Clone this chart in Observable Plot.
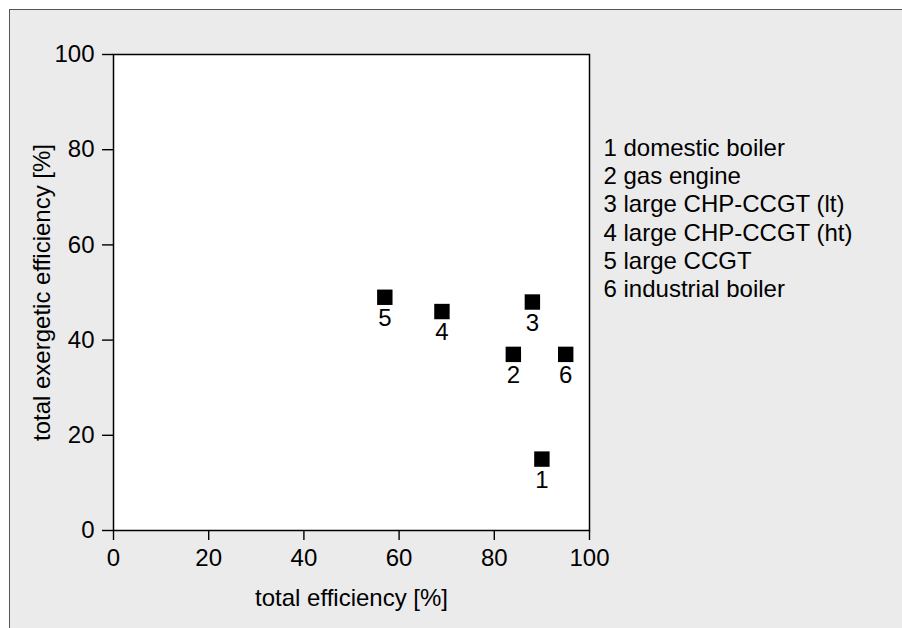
<!DOCTYPE html>
<html>
<head>
<meta charset="utf-8">
<script src="https://cdn.jsdelivr.net/npm/d3@7"></script>
<script src="https://cdn.jsdelivr.net/npm/@observablehq/plot@0.6"></script>
<style>
  html, body { margin: 0; padding: 0; background: #fff; }
  #wrap { position: relative; width: 902px; height: 628px; overflow: hidden; font-family: "Liberation Sans", Arial, sans-serif; }
  #bg { position: absolute; left: 9px; top: 9px; width: 900px; height: 630px; background: #ebebeb; border-left: 1.5px solid #555; border-top: 1.5px solid #555; }
  #chart { position: absolute; left: 0; top: 0; }
</style>
</head>
<body>
<div id="wrap"><div id="bg"></div><div id="chart"></div></div>
<script>
const ids = ["1", "2", "3", "4", "5", "6"];
const names = ["domestic boiler", "gas engine", "large CHP-CCGT (lt)", "large CHP-CCGT (ht)", "large CCGT", "industrial boiler"];
const totalEfficiency = [90, 84, 88, 69, 57, 95];
const exergeticEfficiency = [15, 37, 48, 46, 49, 37];
const xTicks = [0, 20, 40, 60, 80, 100];
const yTicks = [0, 20, 40, 60, 80, 100];
const xLabel = "total efficiency [%]";
const yLabel = "total exergetic efficiency [%]";

const data = ids.map((id, i) => ({id, name: names[i], x: totalEfficiency[i], y: exergeticEfficiency[i]}));
const legendText = ids.map((id, i) => `${id} ${names[i]}`).join("\n");

const FS = 24;
const chart = Plot.plot({
  width: 902,
  height: 628,
  marginLeft: 113,
  marginRight: 313,
  marginTop: 54,
  marginBottom: 98,
  style: {background: "transparent", fontFamily: "'Liberation Sans', Arial, sans-serif", fontSize: FS + "px", color: "#000", overflow: "visible"},
  x: {domain: [0, 100]},
  y: {domain: [0, 100]},
  marks: [
    Plot.frame({fill: "white", stroke: null}),
    Plot.axisX({ticks: xTicks, tickSize: 10, tickPadding: 8, fontSize: FS, label: null, stroke: "#000", strokeWidth: 1.4, tickFormat: d => String(d)}),
    Plot.axisY({ticks: yTicks, tickSize: 11, tickPadding: 8, fontSize: FS, label: null, stroke: "#000", strokeWidth: 1.4, tickFormat: d => String(d)}),
    Plot.frame({stroke: "#000", strokeWidth: 1.5}),
    Plot.dot(data, {x: "x", y: "y", symbol: "square", r: 8.7, fill: "#000", stroke: null}),
    Plot.text(data, {x: "x", y: "y", text: "id", dy: 21, fontSize: FS, fill: "#000", lineAnchor: "middle"}),
    Plot.text([xLabel], {frameAnchor: "bottom", text: d => d, dy: 58, lineAnchor: "top", textAnchor: "middle", fontSize: FS, fill: "#000"}),
    Plot.text([yLabel], {frameAnchor: "left", text: d => d, dx: -71, rotate: -90, lineAnchor: "middle", textAnchor: "middle", fontSize: FS, fill: "#000"}),
    Plot.text([legendText], {frameAnchor: "top-right", text: d => d, dx: 14, dy: 81, textAnchor: "start", lineAnchor: "top", lineHeight: 1.18, fontSize: FS, fill: "#000"})
  ]
});
document.getElementById("chart").appendChild(chart);
</script>
</body>
</html>
